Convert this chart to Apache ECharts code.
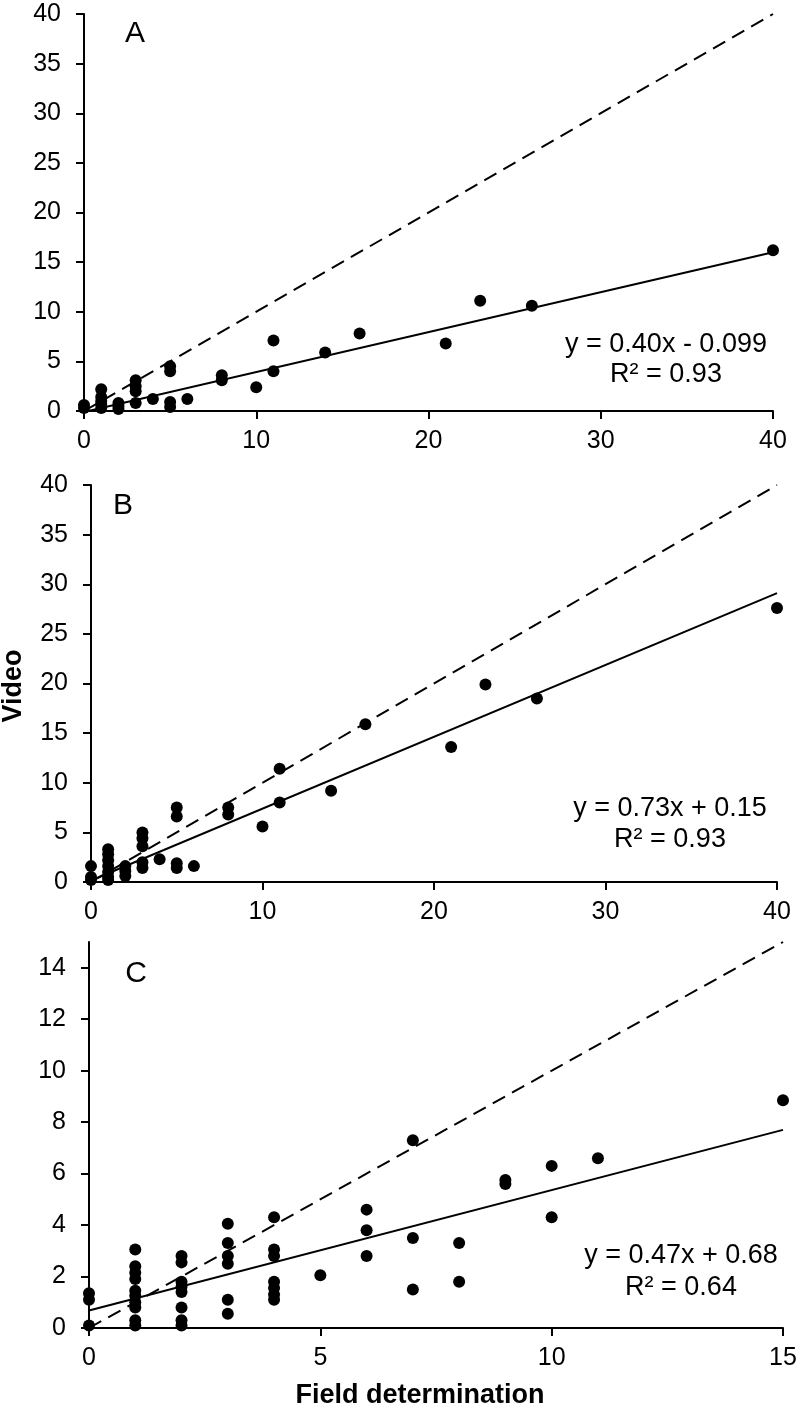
<!DOCTYPE html>
<html><head><meta charset="utf-8">
<script src="https://cdn.jsdelivr.net/npm/echarts@6/dist/echarts.min.js"></script>
<style>html,body{margin:0;padding:0;background:#fff}#c{width:800px;height:1409px}</style>
</head><body><div id="c"></div>
<script>
const FONT = "'Liberation Sans', Arial, Helvetica, sans-serif";

// Panel A: field determination (x) vs video (y)
const pointsA = [
  [0,0.3],[0,0.6],
  [1,2.2],[1,1.4],[1,1.0],[1,0.7],[1,0.3],
  [2,0.8],[2,0.5],[2,0.2],
  [3,3.1],[3,2.5],[3,2.0],[3,0.8],
  [4,1.2],
  [5,4.5],[5,4.0],[5,0.9],[5,0.4],
  [6,1.2],
  [8,3.6],[8,3.1],
  [10,2.4],
  [11,7.1],[11,4.0],
  [14,5.9],[16,7.8],[21,6.8],[23,11.1],[26,10.6],[40,16.2]
];
const fitA = [[0,-0.099],[40,16.0]];
const oneToOneA = [[0,0],[40,40]];

// Panel B
const pointsB = [
  [0,1.6],[0,0.5],[0,0.2],
  [1,3.3],[1,2.8],[1,2.2],[1,1.6],[1,1.0],[1,0.5],[1,0.2],
  [2,1.6],[2,1.1],[2,0.6],
  [3,5.0],[3,4.4],[3,3.6],[3,2.0],[3,1.4],
  [4,2.3],
  [5,7.5],[5,6.6],[5,1.9],[5,1.4],
  [6,1.6],
  [8,7.5],[8,6.8],
  [10,5.6],[11,11.4],[11,8.0],[14,9.2],[16,15.9],[21,13.6],[23,19.9],[26,18.5],[40,27.6]
];
const fitB = [[0,0.15],[40,29.1]];
const oneToOneB = [[0,0],[40,40]];

// Panel C
const pointsC = [
  [0,1.35],[0,1.1],[0,0.1],
  [1,3.05],[1,2.4],[1,2.15],[1,1.9],[1,1.45],[1,1.25],[1,1.0],[1,0.8],[1,0.3],[1,0.1],
  [2,2.8],[2,2.55],[2,1.8],[2,1.6],[2,1.4],[2,0.8],[2,0.3],[2,0.1],
  [3,4.05],[3,3.3],[3,2.8],[3,2.5],[3,1.1],[3,0.55],
  [4,4.3],[4,3.05],[4,2.8],[4,1.8],[4,1.55],[4,1.3],[4,1.1],
  [5,2.05],
  [6,4.6],[6,3.8],[6,2.8],
  [7,7.3],[7,3.5],[7,1.5],
  [8,3.3],[8,1.8],
  [9,5.75],[9,5.6],
  [10,6.3],[10,4.3],
  [11,6.6],
  [15,8.85]
];
const fitC = [[0,0.68],[15,7.7]];
const oneToOneC = [[0,0],[15,15]];

const yTicksC = [0,2,4,6,8,10,12,14];
const panelLetters = ['A','B','C'];
const eqA = ['y = 0.40x - 0.099','R² = 0.93'];
const eqB = ['y = 0.73x + 0.15','R² = 0.93'];
const eqC = ['y = 0.47x + 0.68','R² = 0.64'];
const xTitle = 'Field determination';
const yTitle = 'Video';

const chart = echarts.init(document.getElementById('c'), null, {renderer:'canvas'});

const LBL = 25;
function axisCommon(extra){
  return Object.assign({
    type:'value',
    axisLine:{show:true, onZero:false, lineStyle:{color:'#000', width:2}},
    axisTick:{show:true, inside:false, length:8, lineStyle:{color:'#000', width:2}},
    axisLabel:{color:'#000', fontSize:LBL, fontFamily:FONT},
    splitLine:{show:false}
  }, extra);
}

const grids = [
  {left:84, top:14, width:689, height:397},
  {left:91, top:485, width:686, height:397},
  {left:89, top:942, width:694, height:386}
];

const xLab = {color:'#000', fontSize:LBL, fontFamily:FONT, margin:18};
const yLab = {color:'#000', fontSize:LBL, fontFamily:FONT, margin:23};
const xAxes = [
  axisCommon({gridIndex:0, min:0, max:40, interval:10, axisLabel:xLab}),
  axisCommon({gridIndex:1, min:0, max:40, interval:10, axisLabel:xLab}),
  axisCommon({gridIndex:2, min:0, max:15, interval:5, axisLabel:xLab})
];
const yAxes = [
  axisCommon({gridIndex:0, min:0, max:40, interval:5, axisLabel:yLab}),
  axisCommon({gridIndex:1, min:0, max:40, interval:5, axisLabel:yLab}),
  axisCommon({gridIndex:2, min:0, max:15, interval:1,
    axisTick:{show:true, length:8, lineStyle:{color:'#000', width:2}, customValues:yTicksC},
    axisLabel:Object.assign({customValues:yTicksC}, yLab)})
];

const series = [];
[[pointsA,fitA,oneToOneA],[pointsB,fitB,oneToOneB],[pointsC,fitC,oneToOneC]].forEach((p,i)=>{
  series.push({type:'line', xAxisIndex:i, yAxisIndex:i, data:p[2], symbol:'none', silent:true, z:2,
    lineStyle:{color:'#000', width:2, type:[14,8]}});
  series.push({type:'line', xAxisIndex:i, yAxisIndex:i, data:p[1], symbol:'none', silent:true, z:2,
    lineStyle:{color:'#000', width:2}});
  series.push({type:'scatter', xAxisIndex:i, yAxisIndex:i, data:p[0], symbol:'circle', symbolSize:12, z:3,
    itemStyle:{color:'#000', opacity:1}});
});

function txt(x,y,s,size,opts){
  return {type:'text', x:x, y:y, style:Object.assign({text:s, fill:'#000', font:size+'px '+FONT, textAlign:'center', textVerticalAlign:'middle'}, opts||{})};
}

const graphic = [
  txt(135,34,panelLetters[0],30),
  txt(123,506,panelLetters[1],30),
  txt(136,974,panelLetters[2],30),
  txt(666,345,eqA[0],27), txt(666,375,eqA[1],27),
  txt(670,809,eqB[0],27), txt(670,840,eqB[1],27),
  txt(681,1256,eqC[0],27), txt(681,1288,eqC[1],27),
  {type:'text', x:420, y:1396, style:{text:xTitle, fill:'#000', font:'bold 27px '+FONT, textAlign:'center', textVerticalAlign:'middle'}},
  {type:'text', x:14, y:686, rotation:Math.PI/2, style:{text:yTitle, fill:'#000', font:'bold 27px '+FONT, textAlign:'center', textVerticalAlign:'middle'}}
];

chart.setOption({
  animation:false,
  backgroundColor:'#fff',
  grid:grids,
  xAxis:xAxes,
  yAxis:yAxes,
  series:series,
  graphic:graphic
});
</script></body></html>
